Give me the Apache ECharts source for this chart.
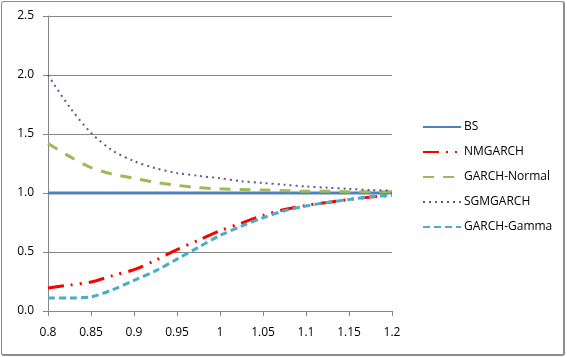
<!DOCTYPE html>
<html><head><meta charset="utf-8">
<script src="https://cdn.jsdelivr.net/npm/echarts@6/dist/echarts.min.js"></script>
<style>html,body{margin:0;padding:0;background:#fff}#wrap{position:relative;width:567px;height:357px;background:#fff}#frame{position:absolute;left:1px;top:1px;width:564px;height:355px;box-sizing:border-box;border:1px solid #8c8c8c;border-right-width:2px;border-bottom-width:2px;border-radius:3px}#c{position:absolute;left:0;top:0;width:567px;height:357px}</style>
</head><body><div id="wrap"><div id="frame"></div><div id="c"></div></div>
<script>
var xs = [0.8,0.825,0.85,0.875,0.9,0.925,0.95,0.975,1.0,1.025,1.05,1.075,1.1,1.125,1.15,1.175,1.2];
var bs = [1,1,1,1,1,1,1,1,1,1,1,1,1,1,1,1,1];
var nmgarch = [0.195,0.22,0.245,0.30,0.35,0.43,0.52,0.60,0.68,0.745,0.81,0.86,0.895,0.92,0.945,0.965,0.98];
var garchNormal = [1.42,1.31,1.215,1.16,1.125,1.09,1.065,1.045,1.035,1.03,1.025,1.02,1.015,1.015,1.01,1.01,1.01];
var sgmgarch = [2.0,1.73,1.51,1.36,1.27,1.21,1.17,1.145,1.125,1.10,1.085,1.07,1.055,1.045,1.035,1.025,1.02];
var garchGamma = [0.11,0.11,0.12,0.18,0.26,0.34,0.44,0.54,0.64,0.72,0.79,0.85,0.89,0.92,0.945,0.97,0.98];
var names = ['BS','NMGARCH','GARCH-Normal','SGMGARCH','GARCH-Gamma'];

function pairs(ys){ return xs.map(function(x,i){return [x,ys[i]];}); }
var font = 'Open Sans';
var chart = echarts.init(document.getElementById('c'));
chart.setOption({
  animation:false,
  backgroundColor:'transparent',
  textStyle:{fontFamily:font},
  grid:{show:false,borderWidth:0,left:48,right:175,top:16,bottom:46},
  legend:{orient:'vertical',left:422,top:121,padding:0,itemWidth:38,itemHeight:12,itemGap:13,
    itemStyle:{opacity:0},
    textStyle:{fontFamily:font,fontSize:12,color:'#000',padding:[0,0,0,-2]},data:names},
  xAxis:{type:'value',min:0.8,max:1.2,interval:0.05,
    axisLine:{show:true,onZero:false,lineStyle:{color:'#868686',width:1}},
    axisTick:{show:true,inside:false,length:5,lineStyle:{color:'#868686',width:1}},
    splitLine:{show:false},
    axisLabel:{color:'#000',fontSize:12,fontFamily:font,margin:16,formatter:function(v){return String(+v.toFixed(2));}}},
  yAxis:{type:'value',min:0,max:2.5,interval:0.5,
    axisLine:{show:true,onZero:false,lineStyle:{color:'#868686',width:1}},
    axisTick:{show:true,inside:false,length:5,lineStyle:{color:'#868686',width:1}},
    splitLine:{show:true,lineStyle:{color:'#868686',width:1}},
    axisLabel:{color:'#000',fontSize:12,fontFamily:font,margin:14,formatter:function(v){return v.toFixed(1);}}},
  series:[
    {name:'BS',type:'line',data:pairs(bs),symbol:'none',lineStyle:{color:'#4F81BD',width:3},itemStyle:{color:'#4F81BD'}},
    {name:'NMGARCH',type:'line',data:pairs(nmgarch),symbol:'none',smooth:0.3,lineStyle:{color:'#FF0000',width:3,type:[16,7,2,7,2,7]},itemStyle:{color:'#FF0000'}},
    {name:'GARCH-Normal',type:'line',data:pairs(garchNormal),symbol:'none',smooth:0.3,lineStyle:{color:'#9BBB59',width:3,type:[11,9]},itemStyle:{color:'#9BBB59'}},
    {name:'SGMGARCH',type:'line',data:pairs(sgmgarch),symbol:'none',smooth:0.3,lineStyle:{color:'#5E5A96',width:2,type:[2,4]},itemStyle:{color:'#5E5A96'}},
    {name:'GARCH-Gamma',type:'line',data:pairs(garchGamma),symbol:'none',smooth:0.3,lineStyle:{color:'#4BACC6',width:3,type:[7,4]},itemStyle:{color:'#4BACC6'}}
  ]
});
</script></body></html>
